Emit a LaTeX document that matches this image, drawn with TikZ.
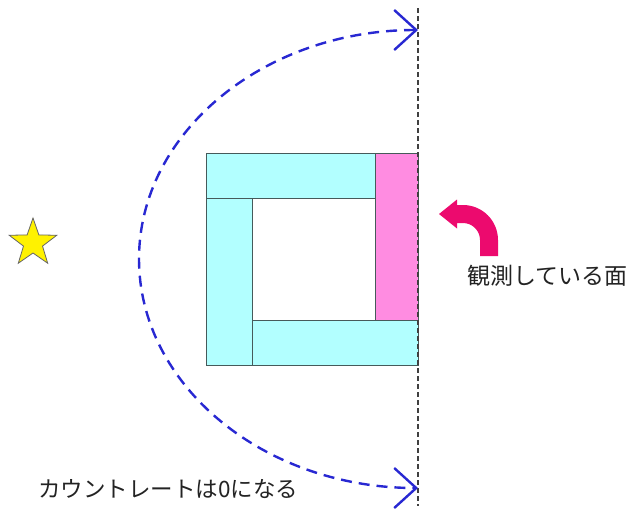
\documentclass[tikz,border=0pt]{standalone}
\usepackage{fontspec}
\newfontfamily\jp{Noto Sans CJK JP}
\usetikzlibrary{arrows.meta,shapes.geometric}
\definecolor{cyanfill}{RGB}{178,255,255}
\definecolor{pinkfill}{RGB}{255,140,225}
\definecolor{rose}{RGB}{236,10,110}
\definecolor{arcblue}{RGB}{40,40,210}
\definecolor{edge}{RGB}{70,90,90}
\definecolor{txt}{RGB}{35,35,35}
\begin{document}
\begin{tikzpicture}[x=1pt,y=-1pt,
  block/.style={draw=edge,line width=0.8pt,fill=cyanfill},
  face/.style={draw=edge,line width=0.8pt,fill=pinkfill},
  lbl/.style={text=txt,inner sep=0pt,anchor=west},
  guide/.style={draw=black!75,line width=1.1pt,dash pattern=on 5pt off 3pt},
  orbit/.style={draw=arcblue,line width=2.4pt,dash pattern=on 11pt off 7pt},
  barb/.tip={Straight Barb[length=22pt,width=40pt]}]
\useasboundingbox (0,0) rectangle (636,514);
\fill[white] (0,0) rectangle (636,514);
% sample blocks
\draw[block] (206,153) rectangle (375,198);
\draw[block] (206,198) rectangle (252,365);
\draw[block] (252,320) rectangle (418,365);
\draw[face] (375,153) rectangle (418,320);
% observation plane
\coordinate (vtop) at (418,8);
\coordinate (vbot) at (418,506);
\draw[guide] (vtop) -- (vbot);
% orbit arc
\coordinate (atop) at (418,30);
\coordinate (abot) at (418,488);
\draw[orbit,barb-barb] (atop) arc[start angle=270,end angle=90,x radius=279,y radius=229];
% star
\node[star,star points=5,star point ratio=2.5,minimum size=50pt,inner sep=0pt,
      fill=yellow,draw=black!60,line width=0.8pt] (src) at (33,243) {};
% curved pink arrow
\fill[rose] (498,256) -- (498,240) arc[start angle=0,end angle=-90,radius=35]
  -- (457,205) -- (457,199.5) -- (439,214) -- (457,228.5) -- (457,223) -- (463,223)
  arc[start angle=-90,end angle=0,radius=17] -- (480,256) -- cycle;
% labels
\node[lbl,font=\jp\fontsize{23}{27}\selectfont] (obs) at (467,276) {観測している面};
\node[lbl,font=\jp\fontsize{22.5}{27}\selectfont] (cnt) at (38,489) {カウントレートは0になる};
\end{tikzpicture}
\end{document}
